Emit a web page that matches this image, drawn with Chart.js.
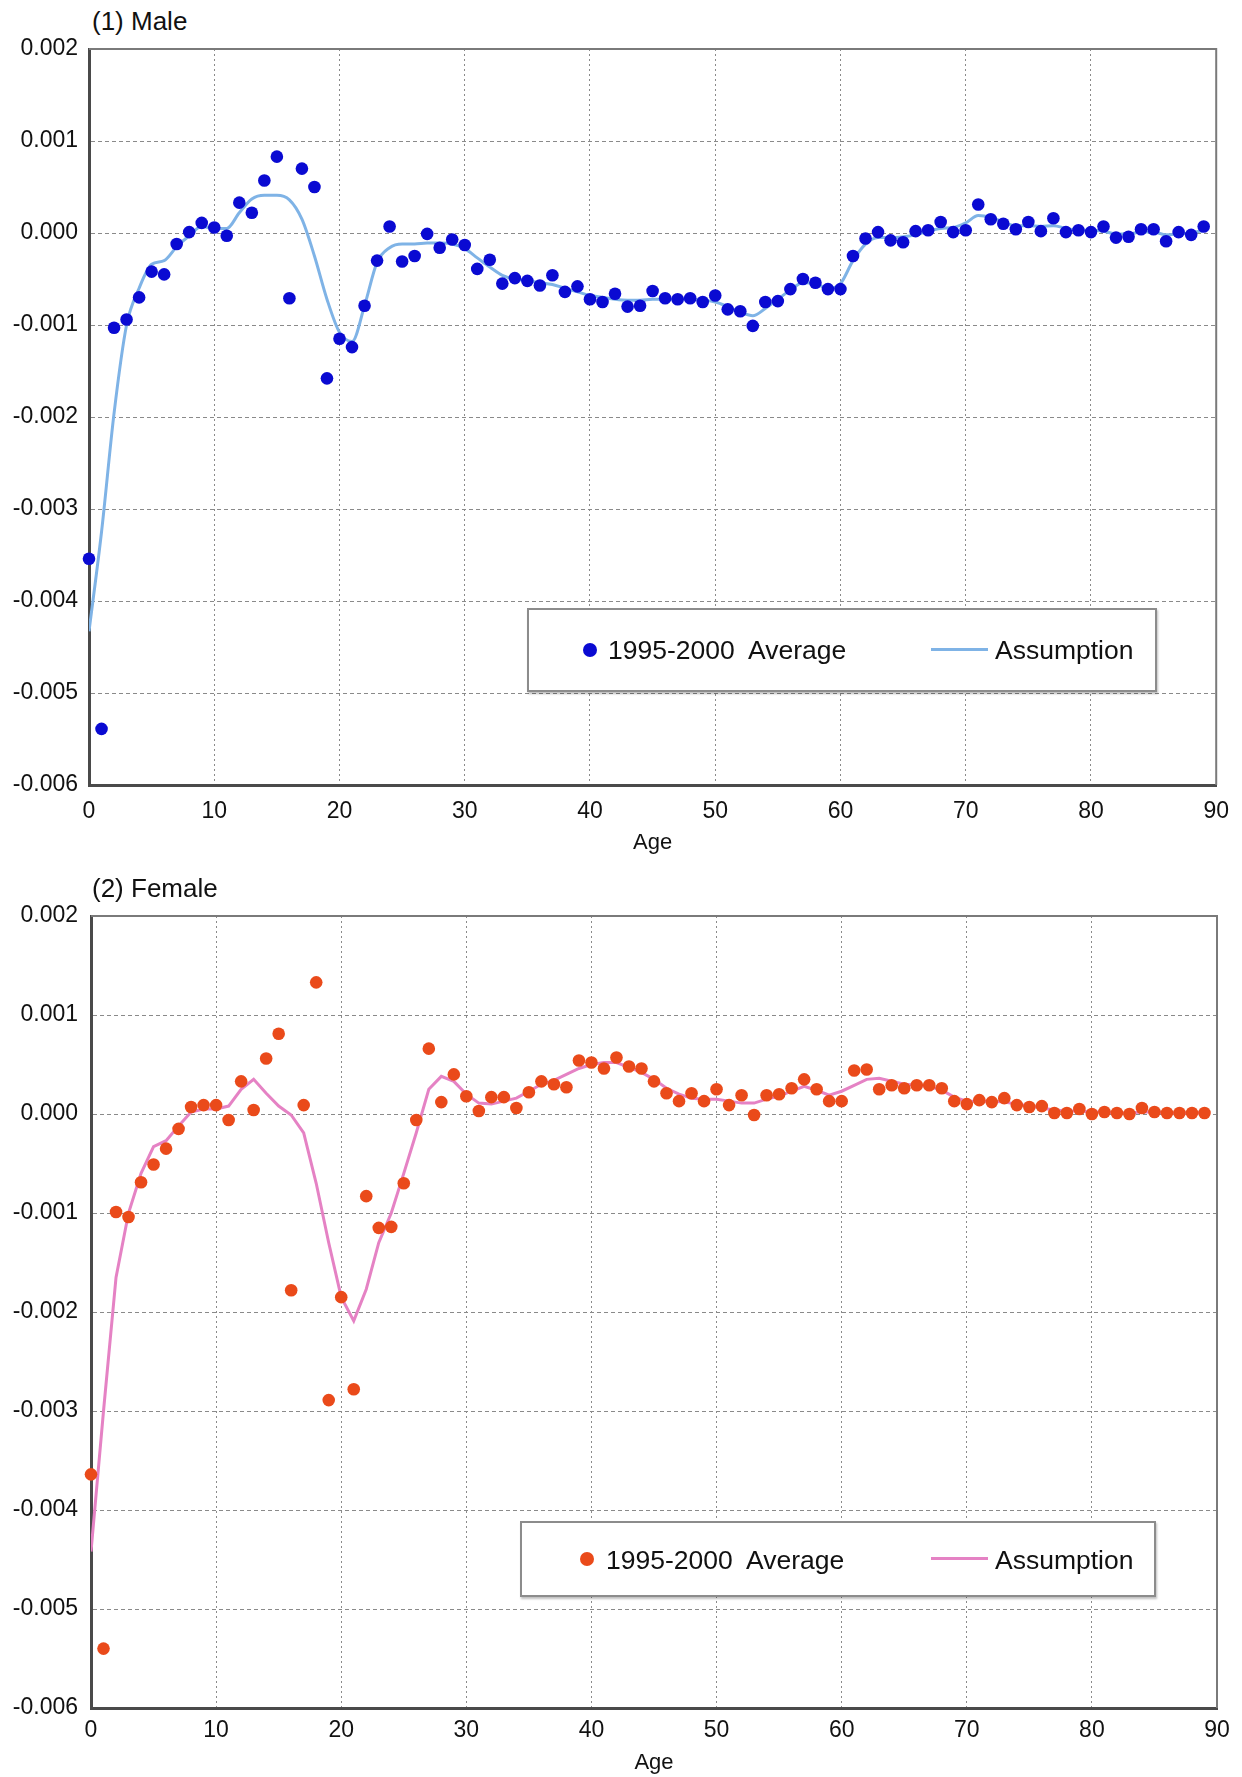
<!DOCTYPE html>
<html>
<head>
<meta charset="utf-8">
<script src="https://cdn.jsdelivr.net/npm/chart.js@4.4.1/dist/chart.umd.min.js"></script>
<style>
  body { margin: 0; background: #fff; font-family: "Liberation Sans", Arial, sans-serif; }
  #page { position: relative; width: 1242px; height: 1777px; overflow: hidden; background: #fff; }
  .panel { position: absolute; left: 0; }
  .title { position: absolute; font-size: 26px; color: #111; line-height: 1; }
  .legend { position: absolute; background: #fff; border: 2px solid #8c8c8c; box-shadow: 1px 2px 2px rgba(0,0,0,0.25); }
  .legend .item { position: absolute; font-size: 26.5px; color: #111; line-height: 1; white-space: pre; }
  .legend .dot { position: absolute; width: 14px; height: 14px; border-radius: 50%; }
  .legend .line { position: absolute; height: 3px; }
</style>
</head>
<body>
<div id="page">
  <div class="title" style="left:92px; top:8px;">(1) Male</div>
  <canvas id="maleChart" class="panel" style="top:0px;" width="1242" height="880"></canvas>

  <div class="title" style="left:92px; top:875px;">(2) Female</div>
  <canvas id="femaleChart" class="panel" style="top:880px;" width="1242" height="897"></canvas>

  <div class="legend" style="left:527px; top:608px; width:626px; height:80px;">
    <div class="dot" style="left:54px; top:33px; background:#0a0ad2;"></div>
    <div class="item" style="left:79px; top:27px;">1995-2000  Average</div>
    <div class="line" style="left:402px; top:38px; width:57px; background:#7fb3e6;"></div>
    <div class="item" style="left:466px; top:27px;">Assumption</div>
  </div>

  <div class="legend" style="left:520px; top:1521px; width:632px; height:72px;">
    <div class="dot" style="left:58px; top:29px; background:#ea4a1a;"></div>
    <div class="item" style="left:84px; top:24px;">1995-2000  Average</div>
    <div class="line" style="left:409px; top:34px; width:57px; background:#e582c4;"></div>
    <div class="item" style="left:473px; top:24px;">Assumption</div>
  </div>
</div>

<script>
// ages 0..89 on the x axis
const ages = Array.from({ length: 90 }, (_, i) => i);

// values in units of 0.001
const maleAverage = [
  -3.54, -5.39, -1.03, -0.94, -0.70, -0.42, -0.45, -0.12, 0.01, 0.11,
  0.06, -0.03, 0.33, 0.22, 0.57, 0.83, -0.71, 0.70, 0.50, -1.58,
  -1.15, -1.24, -0.79, -0.30, 0.07, -0.31, -0.25, -0.01, -0.16, -0.07,
  -0.13, -0.39, -0.29, -0.55, -0.49, -0.52, -0.57, -0.46, -0.64, -0.58,
  -0.72, -0.75, -0.66, -0.80, -0.79, -0.63, -0.71, -0.72, -0.71, -0.75,
  -0.68, -0.83, -0.85, -1.01, -0.75, -0.74, -0.61, -0.50, -0.54, -0.61,
  -0.61, -0.25, -0.06, 0.01, -0.08, -0.10, 0.02, 0.03, 0.12, 0.01,
  0.03, 0.31, 0.15, 0.10, 0.04, 0.12, 0.02, 0.16, 0.01, 0.03,
  0.01, 0.07, -0.05, -0.04, 0.04, 0.04, -0.09, 0.01, -0.02, 0.07
];
const maleAssumption = [
  -4.33, -3.25, -1.96, -1.00, -0.60, -0.34, -0.30, -0.15, -0.03, 0.07,
  0.05, 0.05, 0.22, 0.37, 0.41, 0.41, 0.36, 0.15, -0.25, -0.72,
  -1.08, -1.18, -0.79, -0.32, -0.16, -0.12, -0.12, -0.11, -0.11, -0.12,
  -0.17, -0.27, -0.37, -0.46, -0.50, -0.52, -0.54, -0.56, -0.60, -0.64,
  -0.68, -0.70, -0.72, -0.73, -0.73, -0.72, -0.72, -0.72, -0.72, -0.73,
  -0.75, -0.80, -0.86, -0.90, -0.82, -0.72, -0.62, -0.54, -0.55, -0.60,
  -0.55, -0.30, -0.12, -0.05, -0.05, -0.04, -0.02, 0.02, 0.05, 0.06,
  0.11, 0.19, 0.17, 0.12, 0.08, 0.08, 0.07, 0.08, 0.05, 0.03,
  0.03, 0.02, -0.01, -0.01, 0.01, 0.01, -0.02, -0.01, 0.00, 0.03
];
const femaleAverage = [
  -3.64, -5.40, -0.99, -1.04, -0.69, -0.51, -0.35, -0.15, 0.07, 0.09,
  0.09, -0.06, 0.33, 0.04, 0.56, 0.81, -1.78, 0.09, 1.33, -2.89,
  -1.85, -2.78, -0.83, -1.15, -1.14, -0.70, -0.06, 0.66, 0.12, 0.40,
  0.18, 0.03, 0.17, 0.17, 0.06, 0.22, 0.33, 0.30, 0.27, 0.54,
  0.52, 0.46, 0.57, 0.48, 0.46, 0.33, 0.21, 0.13, 0.21, 0.13,
  0.25, 0.09, 0.19, -0.01, 0.19, 0.20, 0.26, 0.35, 0.25, 0.13,
  0.13, 0.44, 0.45, 0.25, 0.29, 0.26, 0.29, 0.29, 0.26, 0.13,
  0.10, 0.14, 0.12, 0.16, 0.09, 0.07, 0.08, 0.01, 0.01, 0.05,
  0.00, 0.02, 0.01, 0.00, 0.06, 0.02, 0.01, 0.01, 0.01, 0.01
];
const femaleAssumption = [
  -4.42, -3.00, -1.65, -1.00, -0.60, -0.33, -0.27, -0.12, 0.02, 0.05,
  0.05, 0.08, 0.25, 0.35, 0.21, 0.08, -0.01, -0.19, -0.70, -1.30,
  -1.85, -2.09, -1.77, -1.30, -1.00, -0.60, -0.19, 0.25, 0.38, 0.33,
  0.20, 0.11, 0.10, 0.13, 0.16, 0.23, 0.30, 0.34, 0.40, 0.46,
  0.50, 0.52, 0.52, 0.47, 0.42, 0.35, 0.26, 0.20, 0.16, 0.15,
  0.15, 0.13, 0.11, 0.11, 0.15, 0.18, 0.23, 0.28, 0.24, 0.19,
  0.23, 0.29, 0.35, 0.36, 0.33, 0.30, 0.29, 0.28, 0.24, 0.17,
  0.13, 0.13, 0.13, 0.12, 0.10, 0.08, 0.06, 0.04, 0.03, 0.03,
  0.02, 0.02, 0.01, 0.01, 0.02, 0.02, 0.01, 0.01, 0.01, 0.01
];

const yTicks = [0.002, 0.001, 0.000, -0.001, -0.002, -0.003, -0.004, -0.005, -0.006];
const xTicks = [0, 10, 20, 30, 40, 50, 60, 70, 80, 90];

const toRate = arr => arr.map(v => v / 1000);

// top and right edges of the plot frame
const framePlugin = {
    id: 'frame',
    afterDraw(chart) {
        const { ctx, chartArea: a } = chart;
        ctx.save();
        ctx.strokeStyle = '#7a7a7a';
        ctx.lineWidth = 2;
        ctx.beginPath();
        ctx.moveTo(a.left, a.top);
        ctx.lineTo(a.right, a.top);
        ctx.lineTo(a.right, a.bottom);
        ctx.stroke();
        ctx.restore();
    }
};

function makeChart(id, cfg) {
    const font = { family: '"Liberation Sans", Arial, sans-serif', size: 23 };
    return new Chart(document.getElementById(id), {
        type: 'line',
        data: {
            labels: ages,
            datasets: [
                {
                    label: '1995-2000  Average', data: toRate(cfg.average), showLine: false,
                    pointRadius: 6.3, pointBackgroundColor: cfg.dotColor, pointBorderWidth: 0, clip: false
                },
                {
                    label: 'Assumption', data: toRate(cfg.assumption), borderColor: cfg.lineColor,
                    borderWidth: 3, pointRadius: 0, fill: false,
                    tension: cfg.smooth ? 0.4 : 0, cubicInterpolationMode: cfg.smooth ? 'monotone' : 'default'
                }
            ]
        },
        options: {
            responsive: false, animation: false, devicePixelRatio: 1,
            layout: { padding: { top: cfg.top, right: 25, left: 0, bottom: 0 } },
            plugins: { legend: { display: false }, tooltip: { enabled: false } },
            scales: {
                x: {
                    type: 'linear', min: 0, max: 90,
                    afterFit: s => { s.height = cfg.xHeight; },
                    afterBuildTicks: s => { s.ticks = xTicks.map(v => ({ value: v })); },
                    grid: { color: '#8a8a8a', lineWidth: 1, drawTicks: false },
                    border: { display: true, color: '#4a4a4a', width: 3, dash: [2, 3] },
                    ticks: { color: '#111', font: font, padding: cfg.xPad, maxRotation: 0 },
                    title: { display: true, text: 'Age', color: '#111', font: { ...font, size: 22 }, padding: { top: 0, bottom: cfg.agePad } }
                },
                y: {
                    min: -0.006, max: 0.002,
                    afterFit: s => { s.width = cfg.yWidth; },
                    afterBuildTicks: s => { s.ticks = yTicks.map(v => ({ value: v })); },
                    grid: { color: '#8a8a8a', lineWidth: 1, drawTicks: false },
                    border: { display: true, color: '#4a4a4a', width: 3, dash: [4, 3] },
                    ticks: {
                        color: '#111', font: font, padding: cfg.yPad,
                        callback: v => (Math.abs(v) < 1e-9 ? '0.000' : v.toFixed(3))
                    }
                }
            }
        },
        plugins: [framePlugin]
    });
}

makeChart('maleChart', {
    average: maleAverage, assumption: maleAssumption,
    dotColor: '#0a0ad2', lineColor: '#7fb3e6', smooth: true,
    top: 49, xHeight: 95, yWidth: 89, xPad: 13, yPad: 11, agePad: 24
});

makeChart('femaleChart', {
    average: femaleAverage, assumption: femaleAssumption,
    dotColor: '#ea4a1a', lineColor: '#e582c4', smooth: false,
    top: 36, xHeight: 69, yWidth: 91, xPad: 9, yPad: 13, agePad: 1
});
</script>
</body>
</html>
